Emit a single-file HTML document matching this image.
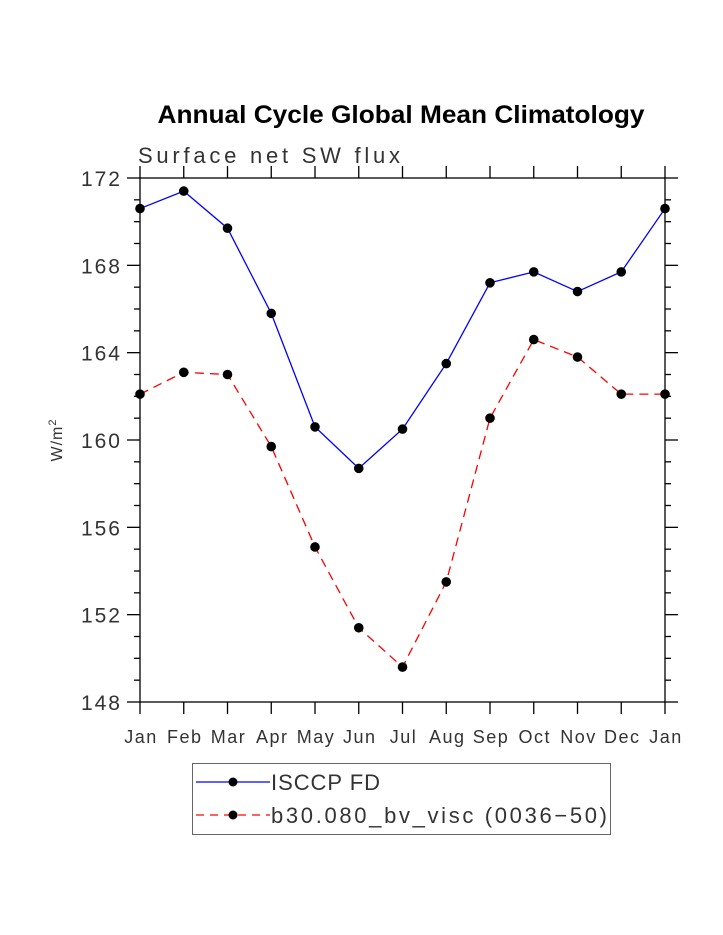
<!DOCTYPE html>
<html><head><meta charset="utf-8"><style>
body{margin:0;background:#fff;}
svg{display:block;font-family:"Liberation Sans",sans-serif;}
</style></head><body>
<svg id="chart" width="723" height="935">
<text x="401" y="123" text-anchor="middle" font-size="25" font-weight="bold" fill="#000" textLength="487" lengthAdjust="spacingAndGlyphs">Annual Cycle Global Mean Climatology</text>
<text x="138" y="163" font-size="22" fill="#333" textLength="262" lengthAdjust="spacing">Surface net SW flux</text>
<text transform="translate(62,440) rotate(-90)" text-anchor="middle" font-size="16" fill="#333" letter-spacing="1">W/m<tspan font-size="11" dy="-6">2</tspan></text>
<g id="axes"></g>
<g id="series"></g>
<g>
<rect x="192.5" y="763.5" width="418" height="71" fill="none" stroke="#666" stroke-width="1"/>
<g>
<line x1="196" y1="782" x2="270" y2="782" stroke="#0000ff" stroke-width="1.3"/>
<circle cx="233" cy="782" r="4.5" fill="#000"/>
<text x="271" y="790" font-size="22" fill="#333" textLength="109" lengthAdjust="spacing">ISCCP FD</text></g>
<g>
<line x1="196" y1="815" x2="270" y2="815" stroke="#ff0000" stroke-width="1.3" stroke-dasharray="8,6"/>
<circle cx="233" cy="815" r="4.5" fill="#000"/>
<text x="271" y="823" font-size="22" fill="#333" textLength="336" lengthAdjust="spacing">b30.080_bv_visc (0036−50)</text></g>
</g>
</svg>
<script>
const months=["Jan","Feb","Mar","Apr","May","Jun","Jul","Aug","Sep","Oct","Nov","Dec","Jan"];
const yTicks=[148,152,156,160,164,168,172];
const isccp=[170.6,171.4,169.7,165.8,160.6,158.7,160.5,163.5,167.2,167.7,166.8,167.7,170.6];
const b30=[162.1,163.1,163.0,159.7,155.1,151.4,149.6,153.5,161.0,164.6,163.8,162.1,162.1];
const X0=140,X1=665,Y0=702,Y1=178,YMIN=148,YMAX=172;
const xs=i=>X0+(X1-X0)*i/(months.length-1);
const ys=v=>Y0-(v-YMIN)/(YMAX-YMIN)*(Y0-Y1);
const NS="http://www.w3.org/2000/svg";
function mk(t,a,p){const e=document.createElementNS(NS,t);for(const k in a)e.setAttribute(k,a[k]);p.appendChild(e);return e;}
const ax=document.getElementById('axes');
const frame=mk('rect',{x:X0,y:Y1,width:X1-X0,height:Y0-Y1,fill:'none',stroke:'#000','stroke-width':1.3},ax);


for(let v=YMIN;v<=YMAX;v++){
  const maj=(v-YMIN)%4===0,L=maj?13:6,y=ys(v);
  mk('line',{x1:X0-L,y1:y,x2:X0,y2:y,stroke:'#000','stroke-width':1.3},ax);
  mk('line',{x1:X1,y1:y,x2:X1+L,y2:y,stroke:'#000','stroke-width':1.3},ax);
}
yTicks.forEach(v=>{
  const t=mk('text',{x:X0-18,y:ys(v)+8,'text-anchor':'end','font-size':21,fill:'#333','letter-spacing':2},ax);
  t.textContent=v;
  
  
});
months.forEach((m,i)=>{
  const x=xs(i);
  mk('line',{x1:x,y1:Y1-12,x2:x,y2:Y1,stroke:'#000','stroke-width':1.3},ax);
  mk('line',{x1:x,y1:Y0,x2:x,y2:Y0+12,stroke:'#000','stroke-width':1.3},ax);
  const t=mk('text',{x:x+1,y:Y0+41,'text-anchor':'middle','font-size':18,fill:'#333','letter-spacing':1.5},ax);
  t.textContent=m;
  
  
});
const sg=document.getElementById('series');
function draw(data,color,dash,name){
  const g=mk('g',{},sg);
  
  
  const pts=data.map((v,i)=>xs(i)+','+ys(v)).join(' ');
  const a={points:pts,fill:'none',stroke:color,'stroke-width':1.3};
  if(dash)a['stroke-dasharray']=dash;
  mk('polyline',a,g);
  data.forEach((v,i)=>{
    const c=mk('circle',{cx:xs(i),cy:ys(v),r:4.8,fill:'#000'},g);
    
    
  });
}
draw(isccp,'#0000ff',null,'series-isccp-fd');
draw(b30,'#ff0000','9,6','series-b30');
</script>
</body></html>
